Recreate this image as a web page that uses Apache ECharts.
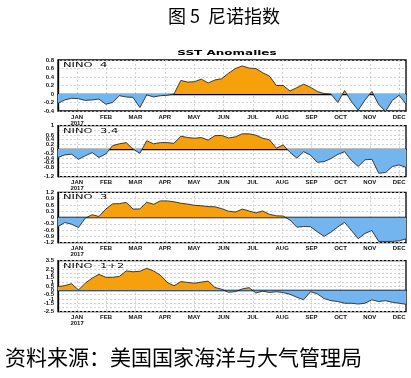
<!DOCTYPE html>
<html>
<head>
<meta charset="utf-8">
<script src="https://cdn.jsdelivr.net/npm/echarts@6/dist/echarts.min.js"></script>
<style>
html,body{margin:0;padding:0;background:#fff}
#chart{width:411px;height:378px}
</style>
</head>
<body>
<div id="chart"></div>
<script>
// month labels and where they sit on the weekly x axis (week index)
var monthNames = ['JAN','FEB','MAR','APR','MAY','JUN','JUL','AUG','SEP','OCT','NOV','DEC'];
var monthTicks = [2.8, 7.05, 11.35, 15.65, 19.95, 24.25, 28.55, 32.85, 37.15, 41.4, 45.7, 50.0];

// weekly SST anomalies
var nino4 = [-0.22,-0.14,-0.10,-0.11,-0.15,-0.14,-0.12,-0.24,-0.20,-0.04,-0.07,-0.08,-0.32,-0.02,-0.07,-0.04,
	-0.03,0.00,0.32,0.28,0.29,0.35,0.26,0.33,0.36,0.49,0.60,0.66,0.61,0.60,0.50,0.42,
	0.20,0.20,0.07,0.15,0.23,0.16,0.06,0.01,0.00,-0.20,0.08,-0.18,-0.38,-0.14,0.06,-0.25,
	-0.41,-0.15,-0.03,-0.24];
var nino34 = [-0.37,-0.26,-0.23,-0.45,-0.30,-0.16,-0.37,-0.22,0.14,0.22,0.27,-0.01,-0.19,0.35,0.22,0.27,
	0.27,0.24,0.55,0.49,0.46,0.49,0.38,0.57,0.58,0.47,0.52,0.65,0.65,0.59,0.46,0.39,
	0.03,0.17,-0.15,-0.40,-0.12,-0.27,-0.58,-0.55,-0.42,-0.24,-0.12,-0.50,-0.76,-0.47,-0.45,-1.05,
	-1.02,-0.76,-0.69,-0.80];
var nino3 = [-0.43,-0.24,-0.32,-0.48,-0.03,0.13,0.05,0.40,0.65,0.66,0.72,0.40,0.41,0.73,0.63,0.79,
	0.79,0.75,0.68,0.64,0.58,0.56,0.52,0.51,0.42,0.30,0.26,0.40,0.31,0.22,0.31,0.15,
	0.08,0.07,-0.12,-0.46,-0.43,-0.44,-0.68,-0.90,-0.70,-0.45,-0.23,-0.62,-1.01,-0.76,-0.62,-1.14,
	-1.14,-1.14,-1.11,-1.02];
var nino12 = [0.45,0.57,0.80,0.06,0.86,1.45,1.90,1.55,1.55,1.65,2.30,2.20,2.25,2.60,2.30,1.80,
	0.95,0.55,1.04,0.95,0.85,0.98,1.10,0.35,0.14,-0.22,-0.14,0.18,0.33,-0.30,-0.08,-0.24,
	-0.15,-0.25,-0.45,-0.80,-1.10,-0.15,-0.40,-0.95,-1.20,-1.30,-1.51,-1.51,-1.60,-1.50,-1.10,-1.31,
	-1.20,-1.40,-1.51,-1.63];

var panelNames = ['NINO  4', 'NINO  3.4', 'NINO  3', 'NINO  1+2'];
var panelData = [nino4, nino34, nino3, nino12];
var yMins = [-0.4, -1.2, -1.2, -2.5];
var yMaxs = [0.8, 1, 1.2, 3.5];
var ySteps = [0.2, 0.2, 0.3, 0.5];

var Page = function(){

	var initChart = function(){
		var chart = echarts.init(document.getElementById('chart'));
		var tops = [60, 125.7, 192.3, 260.7];
		var heights = [51, 51, 50.4, 51];
		var orange = '#F6A10C', blue = '#73B5EE';

		var grids = [], xAxes = [], yAxes = [], series = [], visualMaps = [], graphics = [];

		for (var k = 0; k < 4; k++) {
			var pts = panelData[k].map(function(v, i){ return [i, v]; });
			grids.push({
				left: 58, right: 5, top: tops[k], height: heights[k],
				show: true, borderColor: '#000', borderWidth: 1.3
			});
			xAxes.push({
				gridIndex: k,
				type: 'value',
				min: 0,
				max: pts.length - 1,
				axisLine: {show: true, lineStyle: {color: '#000', width: 1.3}},
				axisTick: {show: false, customValues: monthTicks},
				axisLabel: {
					customValues: monthTicks,
					fontSize: 6,
					fontWeight: 'bold',
					fontFamily: 'Liberation Sans',
					color: '#111',
					margin: 3,
					lineHeight: 6,
					hideOverlap: false,
					formatter: function(v){
						for (var m = 0; m < monthTicks.length; m++) {
							if (Math.abs(monthTicks[m] - v) < 0.01) {
								return m === 0 ? 'JAN\n2017' : monthNames[m];
							}
						}
						return '';
					}
				},
				splitLine: {show: true, lineStyle: {color: '#c8c8c8', type: [2, 2], width: 0.8}}
			});
			yAxes.push({
				gridIndex: k,
				type: 'value',
				min: yMins[k],
				max: yMaxs[k],
				interval: ySteps[k],
				axisLine: {show: true, lineStyle: {color: '#000', width: 1.3}},
				axisTick: {show: false},
				axisLabel: {fontSize: 6, fontWeight: 'bold', fontFamily: 'Liberation Sans', color: '#111', margin: 4,
					interval: 0, showMinLabel: true, showMaxLabel: true, hideOverlap: false},
				splitLine: {show: true, lineStyle: {color: '#c8c8c8', type: [2, 2], width: 0.8}}
			});
			series.push({
				type: 'line',
				xAxisIndex: k, yAxisIndex: k,
				data: pts,
				symbol: 'none',
				silent: true,
				lineStyle: {width: 0},
				areaStyle: {opacity: 1}
			});
			series.push({
				type: 'line',
				xAxisIndex: k, yAxisIndex: k,
				data: pts,
				symbol: 'none',
				silent: true,
				z: 3,
				lineStyle: {color: '#2a2a2a', width: 0.9}
			});
			visualMaps.push({
				type: 'piecewise',
				show: false,
				seriesIndex: k * 2,
				dimension: 1,
				pieces: [{gt: -10, lt: 0, color: blue}, {gte: 0, lt: 10, color: orange}]
			});
			graphics.push({
				type: 'text',
				x: 63, y: tops[k] + 5,
				scaleX: 1.15, scaleY: 0.72,
				style: {text: panelNames[k], fontSize: 10, fontFamily: 'DejaVu Sans', fill: '#000',
					textAlign: 'left', textVerticalAlign: 'middle'}
			});
		}

		graphics.push({
			type: 'text', x: 224, y: 16.5,
			style: {text: '图 5  尼诺指数', fontSize: 18, fontFamily: 'Noto Sans CJK SC', fill: '#000',
				textAlign: 'center', textVerticalAlign: 'middle'}
		});
		graphics.push({
			type: 'text', x: 227, y: 53.5,
			scaleX: 1.2, scaleY: 0.65,
			style: {text: 'SST Anomalies', fontSize: 10, fontWeight: 'bold', fontFamily: 'DejaVu Sans', fill: '#000',
				textAlign: 'center', textVerticalAlign: 'middle'}
		});
		graphics.push({
			type: 'text', x: 5, y: 357,
			style: {text: '资料来源：美国国家海洋与大气管理局', fontSize: 21, fontFamily: 'Noto Sans CJK SC', fill: '#000',
				textAlign: 'left', textVerticalAlign: 'middle'}
		});

		var option = {
			animation: false,
			grid: grids,
			xAxis: xAxes,
			yAxis: yAxes,
			visualMap: visualMaps,
			series: series,
			graphic: graphics
		};
		chart.setOption(option);
	}

	return {
		init: function(){
			initChart();
		}
	}
}();

Page.init();
</script>
</body>
</html>
